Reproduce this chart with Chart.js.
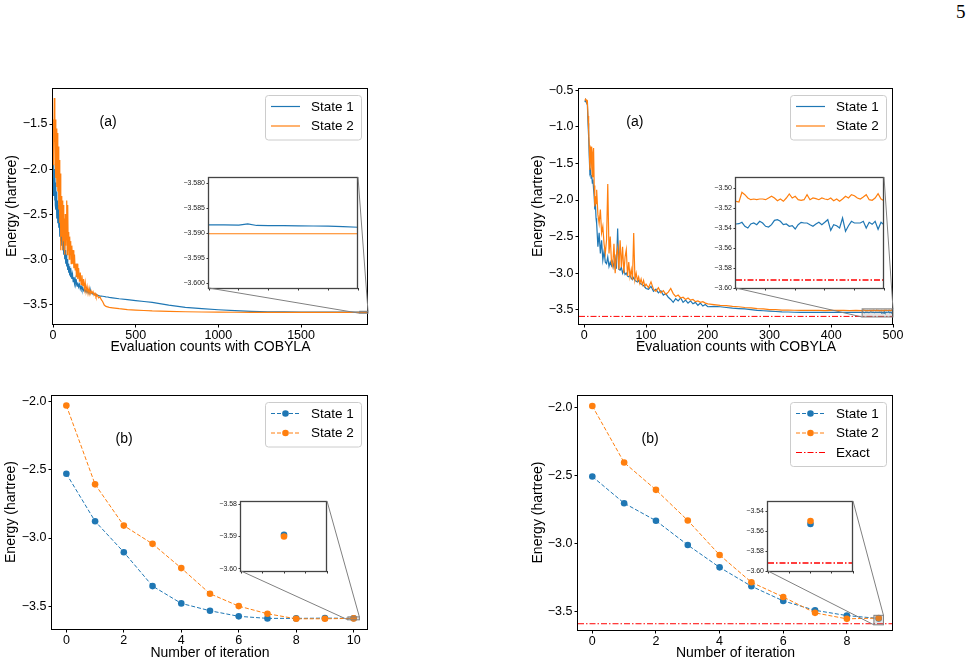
<!DOCTYPE html>
<html>
<head>
<meta charset="utf-8">
<script src="https://cdn.jsdelivr.net/npm/chart.js@4.4.1/dist/chart.umd.min.js"></script>
<style>
  body { margin: 0; background: #fff; }
  #page { position: relative; width: 973px; height: 665px; overflow: hidden; background: #fff; }
  canvas { position: absolute; }
  #pagenum { position: absolute; left: 956px; top: 1px; font: 19px "Liberation Serif", "DejaVu Serif", serif; }
</style>
</head>
<body>
<div id="page">
  <div id="pagenum">5</div>
</div>
<script>
// ---------- data ----------

// (a) left: COBYLA evaluations, energies of both states
const cobylaXa = [0, 2, 4, 6, 8, 10, 12, 14, 16, 18, 20, 23, 26, 29, 32, 35, 38, 41, 44, 47, 50,
  53, 56, 59, 62, 65, 68, 71, 74, 77, 80, 83, 86, 89, 92, 95, 98, 101, 104, 107, 110,
  114, 118, 122, 126, 130, 134, 138, 142, 146, 150, 155, 160, 165, 170, 175, 180, 185, 190, 195, 200,
  206, 212, 218, 224, 230, 236, 242, 248, 254, 260, 268, 276, 284, 292, 300, 310, 320, 330, 340,
  360, 400, 450, 500, 550, 600, 700, 800, 900, 1000, 1100, 1200, 1300, 1400, 1500, 1600, 1700, 1800,
  1855, 1860, 1865, 1868, 1871, 1875, 1880, 1885, 1890, 1895, 1900, 1905];
const cobylaState1a = [-2.10, -2.30, -1.95, -2.25, -2.05, -2.35, -2.00, -2.40, -2.15, -2.45, -2.25,
  -2.55, -2.35, -2.60, -2.40, -2.65, -2.50, -2.75, -2.55, -2.80, -2.65,
  -2.85, -2.70, -2.90, -2.80, -2.95, -2.85, -3.00, -2.90, -3.05, -2.95, -3.08, -3.00, -3.12, -3.05, -3.15, -3.08, -3.18, -3.10, -3.20, -3.15,
  -3.22, -3.17, -3.25, -3.20, -3.27, -3.22, -3.28, -3.25, -3.30, -3.26,
  -3.31, -3.28, -3.33, -3.30, -3.34, -3.32, -3.35, -3.33, -3.36, -3.34,
  -3.37, -3.35, -3.38, -3.33, -3.38, -3.37, -3.39, -3.38, -3.40, -3.39,
  -3.40, -3.405, -3.41, -3.41, -3.412, -3.415, -3.418, -3.42, -3.425,
  -3.43, -3.44, -3.45, -3.46, -3.47, -3.48, -3.51, -3.535, -3.55, -3.562, -3.572, -3.58, -3.584, -3.586, -3.587, -3.5877, -3.588, -3.5882,
  -3.58832, -3.58835, -3.58838, -3.58812, -3.58845, -3.58848, -3.5885, -3.58853, -3.58856, -3.5886, -3.5887, -3.5888];
const cobylaState2a = [-1.95, -1.55, -1.45, -1.85, -1.21, -1.70, -1.40, -1.95, -1.45, -2.10, -1.55,
  -2.20, -1.60, -2.25, -1.75, -2.45, -1.90, -2.60, -2.05, -2.90, -2.30,
  -2.75, -2.35, -2.90, -2.40, -2.80, -2.55, -2.95, -2.50, -2.85, -2.60, -2.35, -2.95, -2.40, -2.90, -2.70, -3.00, -2.75, -2.95, -2.80, -3.05,
  -2.85, -3.05, -2.90, -3.10, -2.95, -3.12, -3.05, -3.20, -3.05, -3.22,
  -3.10, -3.25, -3.15, -3.28, -3.18, -3.30, -3.22, -3.33, -3.26, -3.36,
  -3.30, -3.38, -3.32, -3.39, -3.35, -3.38, -3.36, -3.40, -3.38, -3.42,
  -3.40, -3.43, -3.42, -3.45, -3.47, -3.51, -3.525, -3.53, -3.535,
  -3.54, -3.55, -3.56, -3.565, -3.57, -3.575, -3.58, -3.584, -3.587, -3.589, -3.5897, -3.59, -3.5901, -3.5901, -3.5902, -3.5902, -3.5902, -3.5902,
  -3.5901, -3.5901, -3.5901, -3.5901, -3.5901, -3.5901, -3.5901, -3.5901, -3.5901, -3.5901, -3.5901, -3.5901];

// (a) right: COBYLA evaluations, energies of both states
const cobylaXb = [1, 2, 3, 4, 5, 6, 7, 8, 9, 10, 11, 12, 13, 14, 15, 16, 17, 18, 19, 20,
  22, 24, 26, 28, 30, 32, 34, 36, 38, 40, 42, 44, 46, 48, 50, 52, 54, 56, 58, 60,
  62, 64, 66, 68, 70, 72, 74, 76, 78, 80, 82, 84, 86, 88, 90, 92, 94, 96, 98, 100,
  104, 108, 112, 116, 120, 124, 128, 132, 136, 140, 144, 148, 152, 156, 160, 164, 168, 172, 176, 180, 184, 188, 192, 196, 200,
  210, 220, 230, 240, 250, 260, 270, 280, 290, 300, 310, 320, 330, 340, 350, 360, 370, 380, 390, 400, 410, 420, 430, 440,
  450, 451, 452, 453, 454, 455, 456, 457, 458, 459, 460, 461, 462, 463, 464, 465, 466, 467, 468, 469, 470,
  471, 472, 473, 474, 475, 476, 477, 478, 479, 480, 481, 482, 483, 484, 485, 486, 487, 488, 489, 490,
  491, 492, 493, 494, 495, 496, 497, 498, 499, 500];
const cobylaState1b = [-0.66, -0.63, -0.66, -0.68, -0.70, -0.95, -1.13, -1.40, -1.63, -1.60, -1.70, -1.66, -1.77, -1.72, -1.85, -1.95, -2.13, -2.05, -2.25, -2.32,
  -2.64, -2.45, -2.73, -2.55, -2.82, -2.70, -2.85, -2.87, -2.78, -2.91, -2.85, -2.90, -2.84, -2.92, -2.80, -2.94, -2.39, -2.95, -2.96, -2.92,
  -3.00, -2.95, -3.02, -3.00, -3.04, -3.05, -3.03, -3.07, -3.09, -3.06, -3.10, -3.11, -3.12, -3.10, -3.14, -3.15, -3.16, -3.17, -3.19, -3.21,
  -3.22, -3.18, -3.25, -3.22, -3.27, -3.24, -3.30, -3.28, -3.33, -3.36, -3.40, -3.35, -3.38, -3.34, -3.40, -3.37, -3.41, -3.38, -3.42, -3.40, -3.44, -3.41, -3.45, -3.43, -3.46,
  -3.455, -3.46, -3.47, -3.48, -3.485, -3.49, -3.50, -3.51, -3.515, -3.52, -3.525, -3.53, -3.532, -3.535, -3.536, -3.535, -3.537, -3.536, -3.537, -3.536, -3.537, -3.536, -3.537, -3.536,
  -3.536, -3.5357, -3.5343, -3.5383, -3.54, -3.536, -3.535, -3.5367, -3.5333, -3.535, -3.5383, -3.539, -3.5367, -3.5323, -3.5317, -3.5333, -3.5367, -3.536, -3.5383, -3.5377, -3.541,
  -3.5367, -3.5343, -3.535, -3.535, -3.5367, -3.5383, -3.536, -3.5343, -3.5367, -3.5343, -3.5317, -3.5423, -3.5367, -3.5377, -3.54, -3.53, -3.5433, -3.5377, -3.5333, -3.535,
  -3.535, -3.535, -3.5333, -3.54, -3.5343, -3.5363, -3.5333, -3.5413, -3.5343, -3.5367];
const cobylaState2b = [-0.64, -0.62, -0.63, -0.66, -0.65, -0.85, -1.04, -1.25, -1.59, -1.45, -1.27, -1.55, -1.68, -1.35, -1.29, -1.80, -2.09, -1.95, -2.05, -1.86,
  -2.20, -2.32, -2.13, -2.45, -2.36, -2.60, -2.73, -2.55, -1.78, -2.73, -2.50, -2.85, -2.91, -2.60, -3.00, -2.75, -2.65, -2.95, -2.55, -2.92,
  -2.64, -3.00, -2.78, -2.68, -3.04, -2.85, -3.05, -2.95, -3.09, -2.45, -3.09, -3.00, -3.10, -3.05, -3.14, -3.08, -3.16, -3.10, -3.18, -3.15,
  -3.20, -3.12, -3.22, -3.25, -3.20, -3.27, -3.24, -3.29, -3.26, -3.21, -3.28, -3.32, -3.30, -3.34, -3.33, -3.36, -3.34, -3.37, -3.36, -3.39, -3.38, -3.40, -3.39, -3.41, -3.42,
  -3.43, -3.44, -3.445, -3.455, -3.46, -3.47, -3.475, -3.485, -3.49, -3.50, -3.50, -3.505, -3.505, -3.508, -3.51, -3.508, -3.511, -3.51, -3.512, -3.51, -3.511, -3.51, -3.512, -3.511,
  -3.5133, -3.514, -3.5043, -3.5067, -3.51, -3.5117, -3.511, -3.5117, -3.511, -3.511, -3.5117, -3.51, -3.5083, -3.51, -3.5127, -3.511, -3.5133, -3.51, -3.506, -3.51, -3.5083,
  -3.5117, -3.5123, -3.5117, -3.5067, -3.5117, -3.51, -3.5107, -3.5117, -3.51, -3.511, -3.5117, -3.51, -3.5127, -3.511, -3.5133, -3.511, -3.5083, -3.51, -3.5067, -3.5077,
  -3.51, -3.511, -3.509, -3.5067, -3.5117, -3.5123, -3.51, -3.5057, -3.511, -3.5127];

// (b) left and right: energies per iteration
const iterXa = [0, 1, 2, 3, 4, 5, 6, 7, 8, 9, 10];
const iterState1a = [-2.528, -2.877, -3.104, -3.353, -3.480, -3.534, -3.575, -3.590, -3.590, -3.588, -3.5895];
const iterState2a = [-2.027, -2.606, -2.909, -3.043, -3.221, -3.409, -3.500, -3.556, -3.593, -3.593, -3.5900];
const iterXb = [0, 1, 2, 3, 4, 5, 6, 7, 8, 9];
const iterState1b = [-2.509, -2.705, -2.834, -3.013, -3.177, -3.316, -3.424, -3.493, -3.532, -3.553];
const iterState2b = [-1.990, -2.406, -2.607, -2.832, -3.086, -3.287, -3.395, -3.512, -3.556, -3.550];
const exactEnergy = -3.592;

// axis limits and tick labels
const xRangeTL = [0, 1905], yRangeTL = [-3.72, -1.1];
const xTicksTL = [0, 500, 1000, 1500], yTicksTL = [-3.5, -3.0, -2.5, -2.0, -1.5];
const xRangeTR = [-8.6, 500], yRangeTR = [-3.696, -0.468];
const xTicksTR = [0, 100, 200, 300, 400, 500], yTicksTR = [-3.5, -3.0, -2.5, -2.0, -1.5, -1.0, -0.5];
const xRangeBL = [-0.5, 10.5], yRangeBL = [-3.668, -1.95];
const xTicksBL = [0, 2, 4, 6, 8, 10], yTicksBL = [-3.5, -3.0, -2.5, -2.0];
const xRangeBR = [-0.45, 9.45], yRangeBR = [-3.638, -1.909];
const xTicksBR = [0, 2, 4, 6, 8], yTicksBR = [-3.5, -3.0, -2.5, -2.0];

// zoomed insets
const inXRangeTL = [1855, 1905], inYRangeTL = [-3.6009, -3.5788];
const inXTicksTL = [1855, 1865, 1875, 1885, 1895, 1905], inYTicksTL = [-3.600, -3.595, -3.590, -3.585, -3.580];
const inXRangeTR = [450, 500], inYRangeTR = [-3.60, -3.489];
const inXTicksTR = [450, 460, 470, 480, 490, 500], inYTicksTR = [-3.60, -3.58, -3.56, -3.54, -3.52, -3.50];
const inXRangeBL = [9.8, 10.2], inYRangeBL = [-3.6007, -3.579];
const inXTicksBL = [9.8, 9.9, 10.0, 10.1, 10.2], inYTicksBL = [-3.60, -3.59, -3.58];
const inXRangeBR = [8.85, 9.15], inYRangeBR = [-3.60, -3.53];
const inXTicksBR = [8.85, 8.925, 9.0, 9.075, 9.15], inYTicksBR = [-3.60, -3.58, -3.56, -3.54];

// ---------- drawing ----------
const BLUE = '#1f77b4', ORANGE = '#ff7f0e', RED = '#ff0000';
const DASHDOT = [6, 2, 1.5, 2];
Chart.defaults.font.family = '"Liberation Sans", Arial, Helvetica, sans-serif';
Chart.defaults.color = '#000';

const page = document.getElementById('page');

function addCanvas(id, box) {
  const c = document.createElement('canvas');
  c.id = id;
  c.width = box[2];
  c.height = box[3];
  c.style.left = box[0] + 'px';
  c.style.top = box[1] + 'px';
  c.style.width = box[2] + 'px';
  c.style.height = box[3] + 'px';
  page.appendChild(c);
  return c;
}

function pts(xs, ys) {
  return xs.map((x, i) => ({ x: x, y: ys[i] }));
}

function fmt(v, d) {
  return v.toFixed(d).replace('-', '\u2212');
}

function makeAxis(cfg) {
  const a = {
    type: 'linear',
    bounds: 'data',
    min: cfg.range[0],
    max: cfg.range[1],
    afterBuildTicks: s => { s.ticks = cfg.ticks.map(v => ({ value: v })); },
    afterFit: s => { if (cfg.vertical) s.width = cfg.size; else s.height = cfg.size; },
    border: { display: false },
    grid: { drawOnChartArea: false, drawTicks: true, tickLength: cfg.tickLen, tickColor: cfg.tickColor || '#000', tickWidth: 1 },
    ticks: {
      autoSkip: false, maxRotation: 0, minRotation: 0, padding: cfg.pad,
      color: cfg.color || '#000', font: { size: cfg.font },
      callback: v => (cfg.dec < 0 ? '' : fmt(v, cfg.dec))
    }
  };
  if (cfg.title) {
    a.title = { display: true, text: cfg.title, color: '#000', font: { size: 14 }, padding: cfg.titlePad };
  }
  return a;
}

// box around the plot area (and white face for insets)
const frame = {
  id: 'frame',
  beforeDraw(chart, args, o) {
    if (!o.bg) return;
    const a = chart.chartArea, ctx = chart.ctx;
    ctx.save();
    ctx.fillStyle = '#fff';
    ctx.fillRect(a.left, a.top, a.right - a.left, a.bottom - a.top);
    ctx.restore();
  },
  afterDraw(chart, args, o) {
    const a = chart.chartArea, ctx = chart.ctx;
    ctx.save();
    ctx.strokeStyle = o.color;
    ctx.lineWidth = o.width;
    const l = Math.round(a.left) - 0.5, t = Math.round(a.top) + 0.5;
    const r = Math.round(a.right) - 0.5, b = Math.round(a.bottom) + 0.5;
    ctx.strokeRect(l, t, r - l, b - t);
    ctx.restore();
  }
};

// matplotlib style legend in the upper right corner
const legendBox = {
  id: 'legendBox',
  afterDraw(chart, args, o) {
    if (!o.items) return;
    const a = chart.chartArea, ctx = chart.ctx;
    const w = o.width, h = 25 + (o.items.length - 1) * 19.5;
    const x = a.right - 7 - w, y = a.top + 7;
    ctx.save();
    ctx.beginPath();
    ctx.roundRect(x + 0.5, y + 0.5, w, h, 3);
    ctx.fillStyle = 'rgba(255,255,255,0.8)';
    ctx.fill();
    ctx.strokeStyle = '#cccccc';
    ctx.lineWidth = 1;
    ctx.stroke();
    o.items.forEach((it, i) => {
      const cy = y + 11.5 + i * 19.5;
      ctx.strokeStyle = it.color;
      ctx.lineWidth = it.lw || 1.2;
      ctx.setLineDash(it.dash || []);
      ctx.beginPath();
      ctx.moveTo(x + 6, cy);
      ctx.lineTo(x + 35, cy);
      ctx.stroke();
      ctx.setLineDash([]);
      if (it.marker) {
        ctx.fillStyle = it.color;
        ctx.beginPath();
        ctx.arc(x + 20.5, cy, 3.3, 0, Math.PI * 2);
        ctx.fill();
      }
      ctx.fillStyle = '#000';
      ctx.font = '13.5px "Liberation Sans", Arial, sans-serif';
      ctx.textBaseline = 'middle';
      ctx.fillText(it.label, x + 46, cy + 0.5);
    });
    ctx.restore();
  }
};

// "(a)" / "(b)" tag inside the axes
const panelLabel = {
  id: 'panelLabel',
  afterDraw(chart, args, o) {
    if (!o.text) return;
    const a = chart.chartArea, ctx = chart.ctx;
    ctx.save();
    ctx.fillStyle = '#000';
    ctx.font = '14px "Liberation Sans", Arial, sans-serif';
    ctx.textAlign = 'center';
    ctx.textBaseline = 'middle';
    ctx.fillText(o.text, a.left + o.fx * (a.right - a.left), a.top + o.fy * (a.bottom - a.top));
    ctx.restore();
  }
};

function lineSet(xs, ys, color, order) {
  return { data: pts(xs, ys), borderColor: color, backgroundColor: color, borderWidth: 1.2,
    pointRadius: 0, fill: false, tension: 0, order: order };
}

function markerSet(xs, ys, color, order, showLine) {
  return { data: pts(xs, ys), borderColor: color, backgroundColor: color, borderWidth: 1,
    borderDash: [4, 2], pointRadius: 3.3, pointBorderWidth: 0, pointBackgroundColor: color,
    showLine: showLine, fill: false, tension: 0, order: order };
}

function exactSet(xr, lw) {
  return { data: pts(xr, [exactEnergy, exactEnergy]), borderColor: RED, borderWidth: lw,
    borderDash: DASHDOT, pointRadius: 0, fill: false, order: -1 };
}

function mainChart(p) {
  const [cx, cy, cw, ch] = p.canvas;
  const [pl, pt, pr, pb] = p.plot;
  return new Chart(addCanvas(p.id, p.canvas), {
    type: 'line',
    data: { datasets: p.datasets },
    options: {
      responsive: false, animation: false, devicePixelRatio: 1,
      layout: { padding: { left: 0, top: pt - cy, right: cx + cw - pr, bottom: 0 } },
      scales: {
        x: makeAxis({ range: p.xRange, ticks: p.xTicks, dec: 0, size: cy + ch - pb, font: 12.5,
          tickLen: 3.5, pad: 1, title: p.xTitle, titlePad: { top: 0, bottom: p.xTitlePad } }),
        y: makeAxis({ vertical: true, range: p.yRange, ticks: p.yTicks, dec: 1, size: pl - cx, font: 12.5,
          tickLen: 3.5, pad: 2, title: 'Energy (hartree)', titlePad: { top: p.yTitlePad, bottom: 0 } })
      },
      plugins: {
        legend: { display: false }, tooltip: { enabled: false },
        frame: { color: '#000', width: 1 },
        legendBox: { items: p.legend, width: 96 },
        panelLabel: { text: p.label, fx: p.labelPos[0], fy: p.labelPos[1] }
      }
    },
    plugins: [frame, legendBox, panelLabel]
  });
}

function insetChart(p) {
  const [cx, cy, cw, ch] = p.canvas;
  const [pl, pt, pr, pb] = p.plot;
  return new Chart(addCanvas(p.id, p.canvas), {
    type: 'line',
    data: { datasets: p.datasets },
    options: {
      responsive: false, animation: false, devicePixelRatio: 1,
      layout: { padding: { left: 0, top: pt - cy, right: cx + cw - pr, bottom: 0 } },
      scales: {
        x: makeAxis({ range: p.xRange, ticks: p.xTicks, dec: -1, size: cy + ch - pb, font: 7,
          tickLen: 2.5, pad: 0, tickColor: '#333' }),
        y: makeAxis({ vertical: true, range: p.yRange, ticks: p.yTicks, dec: p.yDec, size: pl - cx, font: 7,
          tickLen: 2.5, pad: 1.5, color: '#222', tickColor: '#333' })
      },
      plugins: {
        legend: { display: false }, tooltip: { enabled: false },
        frame: { color: '#444', width: 1.3, bg: true }
      }
    },
    plugins: [frame]
  });
}

const legend2 = [{ label: 'State 1', color: BLUE }, { label: 'State 2', color: ORANGE }];
const legendB2 = [
  { label: 'State 1', color: BLUE, dash: [4, 2], marker: true, lw: 1 },
  { label: 'State 2', color: ORANGE, dash: [4, 2], marker: true, lw: 1 }
];
const legendB3 = legendB2.concat([{ label: 'Exact', color: RED, dash: DASHDOT, lw: 1 }]);

const boxes = {
  tl: { canvas: [0, 60, 385, 310], plot: [53, 88, 368, 324] },
  tr: { canvas: [520, 60, 385, 310], plot: [579, 88, 893, 324] },
  bl: { canvas: [0, 380, 385, 285], plot: [52, 395, 368, 629] },
  br: { canvas: [520, 380, 385, 285], plot: [578, 395, 893, 630] },
  tlIn: { canvas: [165, 170, 200, 125], plot: [209, 177, 358, 288] },
  trIn: { canvas: [692, 170, 200, 125], plot: [736, 177, 884, 288] },
  blIn: { canvas: [205, 494, 130, 84], plot: [241, 501, 327, 571] },
  brIn: { canvas: [732, 494, 130, 84], plot: [768, 501, 853, 571] }
};

const tl = mainChart(Object.assign({ id: 'tl',
  datasets: [lineSet(cobylaXa, cobylaState1a, BLUE, 1), lineSet(cobylaXa, cobylaState2a, ORANGE, 0)],
  xRange: xRangeTL, yRange: yRangeTL, xTicks: xTicksTL, yTicks: yTicksTL,
  xTitle: 'Evaluation counts with COBYLA', xTitlePad: 14.6, yTitlePad: 4.1,
  legend: legend2, label: '(a)', labelPos: [0.175, 0.144] }, boxes.tl));

const tr = mainChart(Object.assign({ id: 'tr',
  datasets: [lineSet(cobylaXb, cobylaState1b, BLUE, 1), lineSet(cobylaXb, cobylaState2b, ORANGE, 0), exactSet(xRangeTR, 1)],
  xRange: xRangeTR, yRange: yRangeTR, xTicks: xTicksTR, yTicks: yTicksTR,
  xTitle: 'Evaluation counts with COBYLA', xTitlePad: 14.9, yTitlePad: 9.9,
  legend: legend2, label: '(a)', labelPos: [0.178, 0.144] }, boxes.tr));

const bl = mainChart(Object.assign({ id: 'bl',
  datasets: [markerSet(iterXa, iterState1a, BLUE, 1, true), markerSet(iterXa, iterState2a, ORANGE, 0, true)],
  xRange: xRangeBL, yRange: yRangeBL, xTicks: xTicksBL, yTicks: yTicksBL,
  xTitle: 'Number of iteration', xTitlePad: 3.6, yTitlePad: 2.9,
  legend: legendB2, label: '(b)', labelPos: [0.228, 0.19] }, boxes.bl));

const br = mainChart(Object.assign({ id: 'br',
  datasets: [markerSet(iterXb, iterState1b, BLUE, 1, true), markerSet(iterXb, iterState2b, ORANGE, 0, true), exactSet(xRangeBR, 1)],
  xRange: xRangeBR, yRange: yRangeBR, xTicks: xTicksBR, yTicks: yTicksBR,
  xTitle: 'Number of iteration', xTitlePad: 3.3, yTitlePad: 10.1,
  legend: legendB3, label: '(b)', labelPos: [0.229, 0.187] }, boxes.br));

const tlIn = insetChart(Object.assign({ id: 'tlIn',
  datasets: [lineSet(cobylaXa, cobylaState1a, BLUE, 1), lineSet(cobylaXa, cobylaState2a, ORANGE, 0)],
  xRange: inXRangeTL, yRange: inYRangeTL, xTicks: inXTicksTL, yTicks: inYTicksTL, yDec: 3 }, boxes.tlIn));

const trIn = insetChart(Object.assign({ id: 'trIn',
  datasets: [lineSet(cobylaXb, cobylaState1b, BLUE, 1), lineSet(cobylaXb, cobylaState2b, ORANGE, 0), exactSet(inXRangeTR, 1.5)],
  xRange: inXRangeTR, yRange: inYRangeTR, xTicks: inXTicksTR, yTicks: inYTicksTR, yDec: 2 }, boxes.trIn));

const blIn = insetChart(Object.assign({ id: 'blIn',
  datasets: [markerSet(iterXa, iterState1a, BLUE, 1, false), markerSet(iterXa, iterState2a, ORANGE, 0, false)],
  xRange: inXRangeBL, yRange: inYRangeBL, xTicks: inXTicksBL, yTicks: inYTicksBL, yDec: 2 }, boxes.blIn));

const brIn = insetChart(Object.assign({ id: 'brIn',
  datasets: [markerSet(iterXb, iterState1b, BLUE, 1, false), markerSet(iterXb, iterState2b, ORANGE, 0, false), exactSet(inXRangeBR, 1.5)],
  xRange: inXRangeBR, yRange: inYRangeBR, xTicks: inXTicksBR, yTicks: inYTicksBR, yDec: 2 }, boxes.brIn));

// zoom rectangle on the main axes and the two connector lines to the inset
const overlay = addCanvas('overlay', [0, 0, 973, 665]);
overlay.style.pointerEvents = 'none';

function markInset(main, mainBox, inset, insetBox, xr, yr) {
  const ctx = overlay.getContext('2d');
  const sx = main.scales.x, sy = main.scales.y;
  const bx0 = mainBox[0] + sx.getPixelForValue(xr[0]);
  const bx1 = mainBox[0] + sx.getPixelForValue(xr[1]);
  const byLow = mainBox[1] + sy.getPixelForValue(yr[0]);
  const byHigh = mainBox[1] + sy.getPixelForValue(yr[1]);
  const a = inset.chartArea;
  const il = insetBox[0] + a.left, ir = insetBox[0] + a.right;
  const it = insetBox[1] + a.top, ib = insetBox[1] + a.bottom;
  ctx.save();
  ctx.fillStyle = 'rgba(128,128,128,0.22)';
  ctx.fillRect(bx0, byHigh, bx1 - bx0, byLow - byHigh);
  ctx.strokeStyle = '#808080';
  ctx.lineWidth = 1;
  ctx.strokeRect(bx0, byHigh, bx1 - bx0, byLow - byHigh);
  ctx.beginPath();
  ctx.moveTo(il, ib);
  ctx.lineTo(bx0, byLow);
  ctx.moveTo(ir, it);
  ctx.lineTo(bx1, byHigh);
  ctx.stroke();
  ctx.restore();
}

markInset(tl, boxes.tl.canvas, tlIn, boxes.tlIn.canvas, inXRangeTL, inYRangeTL);
markInset(tr, boxes.tr.canvas, trIn, boxes.trIn.canvas, inXRangeTR, inYRangeTR);
markInset(bl, boxes.bl.canvas, blIn, boxes.blIn.canvas, inXRangeBL, inYRangeBL);
markInset(br, boxes.br.canvas, brIn, boxes.brIn.canvas, inXRangeBR, inYRangeBR);
</script>
</body>
</html>
